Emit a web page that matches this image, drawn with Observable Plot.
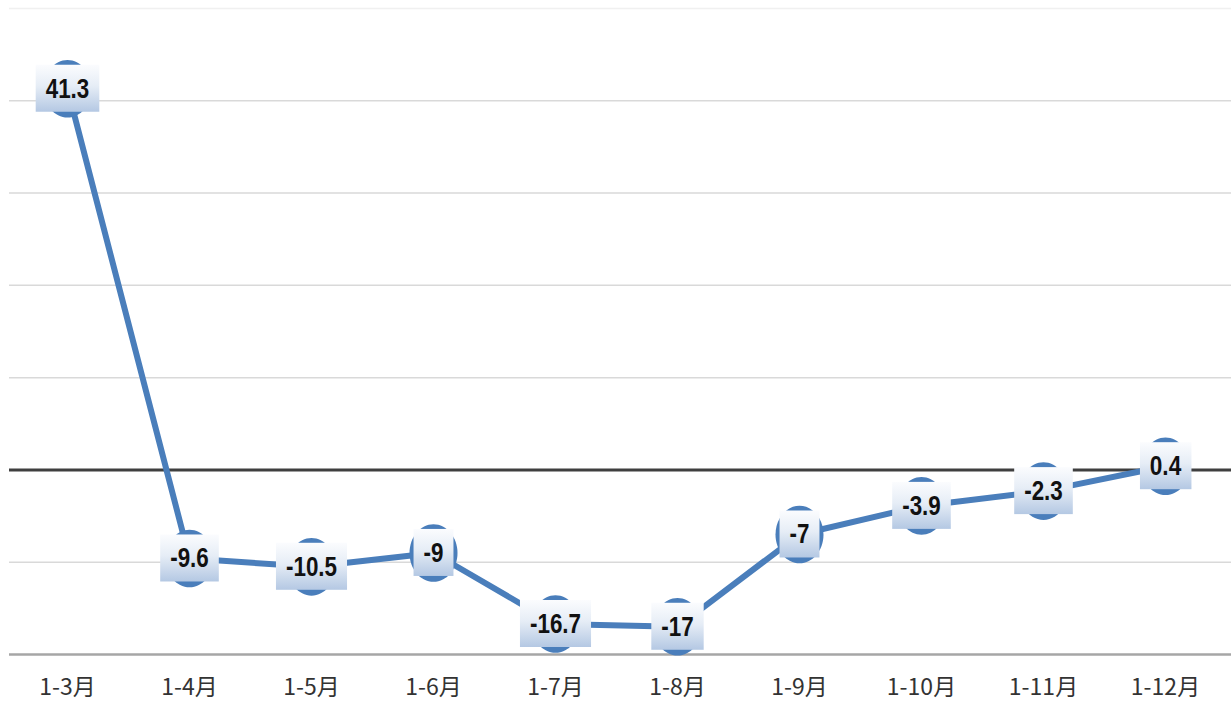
<!DOCTYPE html>
<html>
<head>
<meta charset="utf-8">
<script src="https://cdn.jsdelivr.net/npm/d3@7"></script>
<script src="https://cdn.jsdelivr.net/npm/@observablehq/plot@0.6"></script>
<style>
  html, body { margin: 0; padding: 0; background: #fff; }
  #chart { width: 1231px; height: 726px; }
</style>
</head>
<body>
<div id="chart"></div>
<script>
const categories = ["1-3月", "1-4月", "1-5月", "1-6月", "1-7月", "1-8月", "1-9月", "1-10月", "1-11月", "1-12月"];
const values = [41.3, -9.6, -10.5, -9, -16.7, -17, -7, -3.9, -2.3, 0.4];
const gridTicks = [-10, 10, 20, 30, 40];
const yDomain = [-20, 50];

const data = categories.map((c, i) => ({cat: c, value: values[i]}));

const ellipse = {
  draw(ctx, size) {
    const r = Math.sqrt(size / Math.PI);
    const rx = r, ry = r * 1.2, k = 0.5523;
    ctx.moveTo(rx, 0);
    ctx.bezierCurveTo(rx, ry * k, rx * k, ry, 0, ry);
    ctx.bezierCurveTo(-rx * k, ry, -rx, ry * k, -rx, 0);
    ctx.bezierCurveTo(-rx, -ry * k, -rx * k, -ry, 0, -ry);
    ctx.bezierCurveTo(rx * k, -ry, rx, -ry * k, rx, 0);
    ctx.closePath();
  }
};

const chart = Plot.plot({
  width: 1231,
  height: 726,
  marginLeft: 9,
  marginRight: 0,
  marginTop: 8,
  marginBottom: 72,
  style: {fontFamily: "'Noto Sans CJK SC', sans-serif", fontSize: "23px", color: "#333", background: "#fff"},
  x: {type: "point", domain: categories, range: [4, 1228], padding: 0.5, label: null, tickSize: 0, tickPadding: 24},
  y: {domain: yDomain, axis: null},
  marks: [
    Plot.ruleY(gridTicks, {stroke: "#d9d9d9", strokeWidth: 1.5}),
    Plot.ruleY([yDomain[1]], {stroke: "#f0f0f0", strokeWidth: 1.5}),
    Plot.ruleY([yDomain[0]], {stroke: "#a6a6a6", strokeWidth: 2.5}),
    Plot.ruleY([0], {stroke: "#3f3f3f", strokeWidth: 3}),
    Plot.line(data, {x: "cat", y: "value", stroke: "#4a7ebb", strokeWidth: 6, strokeLinejoin: "round"}),
    Plot.dot(data, {x: "cat", y: "value", r: 24, fill: "#4a7ebb", stroke: "none", symbol: ellipse}),
    Plot.text(data, {x: "cat", y: "value", text: d => String(d.value), fontSize: 28, fontWeight: "bold",
      fontFamily: "'Liberation Sans Narrow', 'Liberation Sans', sans-serif", fill: "#111"})
  ]
});

document.getElementById("chart").appendChild(chart);

// gradient label boxes behind the value labels
const svgNS = "http://www.w3.org/2000/svg";
const defs = document.createElementNS(svgNS, "defs");
defs.innerHTML = `<linearGradient id="boxGrad" x1="0" y1="0" x2="0" y2="1">
  <stop offset="0" stop-color="#fbfcfe"/>
  <stop offset="0.45" stop-color="#e6edf6"/>
  <stop offset="1" stop-color="#b4c8e3"/>
</linearGradient>`;
chart.insertBefore(defs, chart.firstChild);

const textGroup = chart.querySelector('g[aria-label="text"]');
if (textGroup) {
  const texts = Array.from(textGroup.querySelectorAll("text"));
  const first = texts[0];
  texts.forEach(t => {
    // condense the glyphs to mimic a narrow bold face
    const b0 = t.getBBox();
    t.setAttribute("textLength", (b0.width * 0.8).toFixed(1));
    t.setAttribute("lengthAdjust", "spacingAndGlyphs");
    const b = t.getBBox();
    const rect = document.createElementNS(svgNS, "rect");
    const h = 47;
    const cy = b.y + b.height / 2;
    const cx = b0.x + b0.width / 2;
    const w = b0.width * 0.8 + 20;
    rect.setAttribute("x", cx - w / 2);
    rect.setAttribute("width", w);
    rect.setAttribute("y", cy - h / 2);
    rect.setAttribute("height", h);
    rect.setAttribute("fill", "url(#boxGrad)");
    const tr = t.getAttribute("transform");
    if (tr) rect.setAttribute("transform", tr);
    textGroup.insertBefore(rect, first);
  });
}
</script>
</body>
</html>
